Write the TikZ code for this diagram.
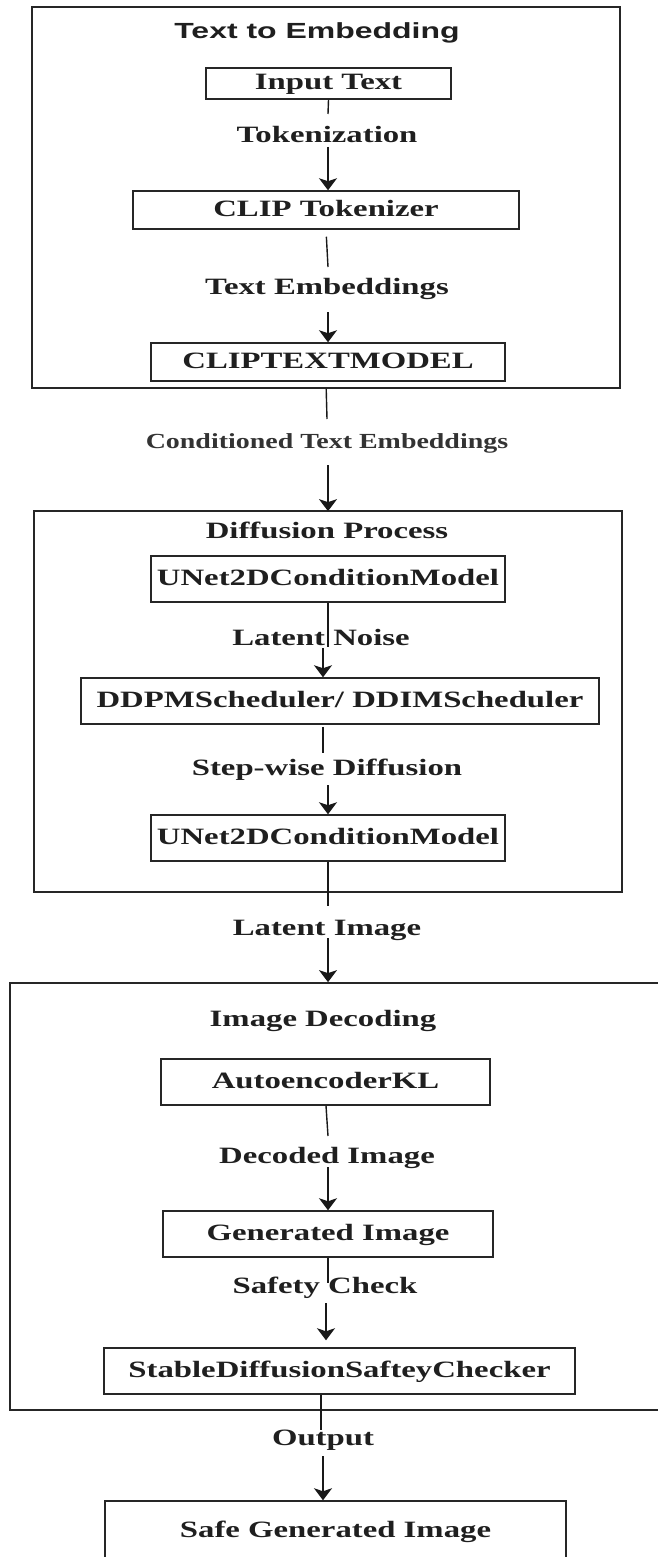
\documentclass[tikz,border=0pt]{standalone}
\usepackage{fontspec}
\setmainfont{Liberation Serif}
\newfontfamily\labfont{Liberation Serif}[FakeStretch=1.4]
\newfontfamily\condfont{Liberation Serif}[FakeStretch=1.3]
\newfontfamily\titfont{Liberation Sans}[FakeStretch=1.46]
\usetikzlibrary{arrows.meta}
\begin{document}
\begin{tikzpicture}[x=1pt,y=-1pt,
  txt/.style={inner sep=0pt, text=black!88, text height=15.5pt, text depth=3pt,
    font=\labfont\bfseries\fontsize{23.4}{26}\selectfont},
  box/.style={txt, draw=black!85, line width=1.5pt, rectangle},
  group/.style={draw=black!85, line width=1.7pt, rectangle, inner sep=0pt},
  lab/.style={txt},
  conn/.style={line width=1.4pt, draw=black!90},
  arr/.style={conn, -{Stealth[length=12pt,width=18pt,inset=3pt]}}
]
\useasboundingbox (0,0) rectangle (658,1557);
\clip (0,0) rectangle (658,1557);

% groups
\node[group, minimum width=588pt, minimum height=381pt] (g1) at (326,197.5) {};
\node[group, minimum width=588pt, minimum height=381pt] (g2) at (328,701.5) {};
\node[group, minimum width=660pt, minimum height=427pt] (g3) at (340,1196.5) {};

% titles
\node[inner sep=0pt, text=black!88, text height=15.7pt, text depth=3pt,
  font=\titfont\bfseries\fontsize{21.9}{24}\selectfont] (t1) at (317,32.5) {Text to Embedding};
\node[lab] (t2) at (327,532.5) {Diffusion Process};
\node[lab] (t3) at (323,1020.5) {Image Decoding};

% boxes
\node[box, minimum width=245pt, minimum height=31pt] (inp) at (328.5,83.5) {Input Text};
\node[box, minimum width=386pt, minimum height=38pt] (clip) at (326,210) {CLIP Tokenizer};
\node[box, minimum width=354pt, minimum height=38pt] (ctm) at (328,362) {CLIPTEXTMODEL};
\node[box, minimum width=354pt, minimum height=46pt] (un1) at (328,579) {UNet2DConditionModel};
\node[box, minimum width=518pt, minimum height=46pt] (ddpm) at (340,701) {DDPMScheduler/ DDIMScheduler};
\node[box, minimum width=354pt, minimum height=46pt] (un2) at (328,838) {UNet2DConditionModel};
\node[box, minimum width=329pt, minimum height=46pt] (ae) at (325.5,1082) {AutoencoderKL};
\node[box, minimum width=330pt, minimum height=46pt] (gen) at (328,1234) {Generated Image};
\node[box, minimum width=471pt, minimum height=46pt] (sd) at (339.5,1371) {StableDiffusionSafteyChecker};
\node[box, minimum width=461pt, minimum height=60pt] (safe) at (335.5,1531) {Safe Generated Image};

% labels
\node[lab] (l1) at (327,136.5) {Tokenization};
\node[lab] (l2) at (327,288.5) {Text Embeddings};
\node[lab, font=\condfont\bfseries\fontsize{21.5}{24}\selectfont, text=black!80] (l3) at (327,442.5) {Conditioned Text Embeddings};
\node[lab] (l4) at (321,639.5) {Latent Noise};
\node[lab] (l5) at (327,769.5) {Step-wise Diffusion};
\node[lab] (l6) at (327,929.5) {Latent Image};
\node[lab] (l7) at (327,1157.5) {Decoded Image};
\node[lab] (l8) at (325,1287.5) {Safety Check};
\node[lab] (l9) at (323,1439.5) {Output};

% breakpoints
\coordinate (c1a) at (328,114);  \coordinate (c1b) at (328,147);
\coordinate (c2b) at (328,267);  \coordinate (c2c) at (328,312);
\coordinate (c3a) at (327,419);  \coordinate (c3b) at (328,465);
\coordinate (c4a) at (328,647);  \coordinate (c4b) at (323,648);
\coordinate (c5b) at (323,753);  \coordinate (c5c) at (328,785);
\coordinate (c6a) at (328,906);  \coordinate (c6b) at (328,938);
\coordinate (c7a) at (328,1136); \coordinate (c7b) at (328,1167);
\coordinate (c8a) at (328,1283); \coordinate (c8b) at (326,1303);
\coordinate (c9a) at (321,1430); \coordinate (c9b) at (323,1456);

% connectors
\draw[conn] (inp.south) -- (c1a);
\draw[arr] (c1b) -- (c1b |- clip.north);
\draw[conn, shorten <=7pt] (clip.south) -- (c2b);
\draw[arr] (c2c) -- (c2c |- ctm.north);
\draw[conn, shorten <=7pt] (ctm.south -| 326,0) -- (c3a);
\draw[arr] (c3b) -- ([yshift=-1pt]c3b |- g2.north);
\draw[conn] (un1.south) -- (c4a);
\draw[arr] (c4b) -- (c4b |- ddpm.north);
\draw[conn, shorten <=2pt] (ddpm.south -| c5b) -- (c5b);
\draw[arr] (c5c) -- (c5c |- un2.north);
\draw[conn] (un2.south) -- (c6a);
\draw[arr] (c6b) -- (c6b |- g3.north);
\draw[conn] (ae.south -| 326,0) -- (c7a);
\draw[arr] (c7b) -- (c7b |- gen.north);
\draw[conn] (gen.south) -- (c8a);
\draw[arr, shorten >=7pt] (c8b) -- (c8b |- sd.north);
\draw[conn] (sd.south -| c9a) -- (c9a);
\draw[arr] (c9b) -- (c9b |- safe.north);
\end{tikzpicture}
\end{document}
